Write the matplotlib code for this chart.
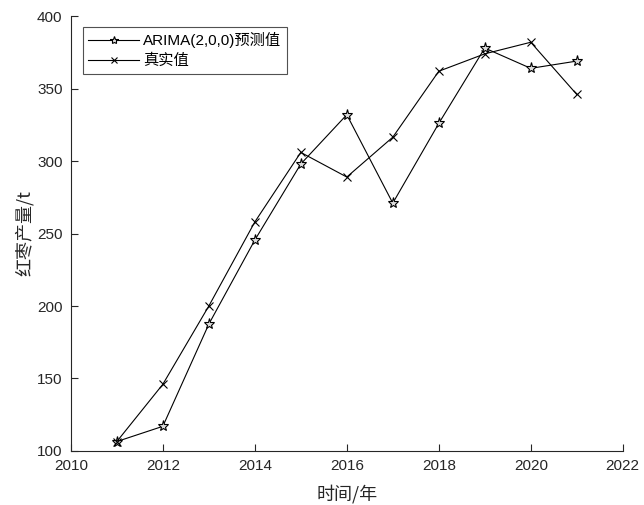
import matplotlib
matplotlib.use("Agg")
import matplotlib.pyplot as plt

plt.rcParams['font.family'] = ['Liberation Sans', 'Noto Sans CJK SC', 'DejaVu Sans']

years = [2011, 2012, 2013, 2014, 2015, 2016, 2017, 2018, 2019, 2020, 2021]
predicted = [106.5, 117, 187.5, 245.5, 298, 332, 271, 326, 378, 364, 369]
actual = [106.5, 146, 200, 258, 306, 289, 316.5, 362, 374, 382, 346]

x_ticks = [2010, 2012, 2014, 2016, 2018, 2020, 2022]
y_ticks = [100, 150, 200, 250, 300, 350, 400]

axis_color = '#262626'

fig = plt.figure(figsize=(6.44, 5.05), dpi=100)
ax = fig.add_axes([0.110, 0.107, 0.857, 0.861])

ax.plot(years, predicted, color='black', linewidth=0.8, marker='*', markersize=8,
        markerfacecolor='#dcdcdc', markeredgecolor='black', markeredgewidth=0.8,
        label='ARIMA(2,0,0)预测值')
ax.plot(years, actual, color='black', linewidth=0.8, marker='x', markersize=6,
        markeredgewidth=0.8, label='真实值')

ax.set_xlim(2010, 2022)
ax.set_ylim(100, 400)
ax.set_xticks(x_ticks)
ax.set_yticks(y_ticks)

for side in ('top', 'right'):
    ax.spines[side].set_visible(False)
for side in ('left', 'bottom'):
    ax.spines[side].set_color(axis_color)
    ax.spines[side].set_linewidth(0.8)

ax.tick_params(direction='in', length=5, width=0.8, colors=axis_color,
               labelsize=11, pad=6)

ax.set_xlabel('时间/年', fontsize=13, color=axis_color,
              family=['Noto Sans CJK SC', 'DejaVu Sans'], labelpad=8)
ax.set_ylabel('红枣产量/t', fontsize=13, color=axis_color,
              family=['Noto Sans CJK SC', 'DejaVu Sans'], labelpad=2)

leg = ax.legend(loc='upper left', bbox_to_anchor=(0.022, 0.975), fontsize=11,
                frameon=True, fancybox=False, edgecolor=axis_color,
                handlelength=3.3, borderpad=0.35, labelspacing=0.35,
                handletextpad=0.3, borderaxespad=0, markerscale=0.75)
leg.get_frame().set_linewidth(0.8)
for t in leg.get_texts():
    t.set_color('black')

fig.savefig('out.png', dpi=100)
